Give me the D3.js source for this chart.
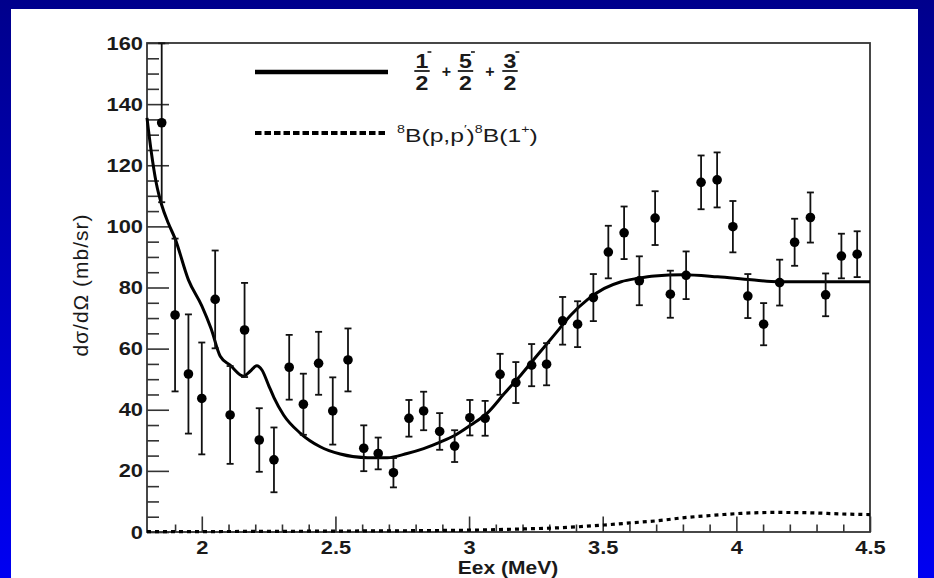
<!DOCTYPE html>
<html>
<head>
<meta charset="utf-8">
<script src="https://cdn.jsdelivr.net/npm/d3@7"></script>
<style>
  body { margin: 0; background: #0000c0; }
  text { font-family: "Liberation Sans", Arial, Helvetica, sans-serif; fill: #1a1a1a; }
</style>
</head>
<body>
<svg id="chart" width="934" height="578"></svg>
<script>
// ----- data -----
const energies = [1.85, 1.90, 1.95, 2.00, 2.05, 2.106, 2.16, 2.215, 2.27, 2.327, 2.38, 2.437,
                  2.49, 2.547, 2.606, 2.66, 2.717, 2.775, 2.83, 2.89, 2.946, 3.003, 3.06, 3.116,
                  3.175, 3.234, 3.29, 3.35, 3.406, 3.465, 3.521, 3.58, 3.637, 3.696, 3.753, 3.812,
                  3.868, 3.928, 3.987, 4.043, 4.102, 4.162, 4.218, 4.277, 4.334, 4.393, 4.452];
const xsec = [133.9, 71.0, 51.7, 43.7, 76.1, 38.3, 66.1, 30.1, 23.6, 53.9, 41.8, 55.2,
              39.6, 56.3, 27.4, 25.7, 19.4, 37.2, 39.6, 32.9, 28.1, 37.4, 37.2, 51.6,
              48.9, 54.6, 54.9, 69.1, 68.0, 76.7, 91.6, 97.9, 82.2, 102.7, 77.8, 84.0,
              114.4, 115.2, 99.9, 77.2, 68.0, 81.6, 94.8, 102.9, 77.6, 90.3, 90.9];
const xsecErr = [26, 25, 19.5, 18.3, 16, 16, 15.4, 10.4, 10.6, 10.6, 10, 10.3,
                 11, 10.3, 7.5, 5.2, 4.8, 6, 6.3, 6, 5.2, 5.8, 5.7, 6.7,
                 6.7, 6.9, 6.9, 7.8, 7.5, 7.7, 8.6, 8.6, 8, 8.8, 7.7, 7.8,
                 8.8, 9, 8.4, 7.2, 6.9, 7.5, 7.7, 8.2, 7, 7.3, 7.5];

// total fit (1/2- + 5/2- + 3/2-)
const fitE = [1.795, 1.81, 1.83, 1.85, 1.875, 1.9, 1.95, 2.0, 2.035, 2.069, 2.106, 2.156,
              2.18, 2.206, 2.225, 2.25, 2.27, 2.306, 2.369, 2.443, 2.518, 2.62, 2.694, 2.768,
              2.83, 2.894, 2.944, 3.006, 3.069, 3.131, 3.194, 3.256, 3.319, 3.381, 3.444,
              3.506, 3.569, 3.631, 3.694, 3.8, 3.93, 4.056, 4.156, 4.3, 4.5];
const fitXsec = [135.5, 125, 114, 107, 101, 96, 82.5, 74, 66.5, 57.5, 54.6, 51,
                 52.5, 54.4, 53, 48, 44, 38.3, 32.3, 27.9, 25.5, 24.3, 24.3, 25.7,
                 27.3, 29.5, 31.5, 35, 39, 45.2, 51.4, 57.9, 64.5, 71, 76.1,
                 79.7, 81.9, 83, 83.8, 84.2, 83.5, 82.5, 81.9, 81.9, 81.9];

// 8B(p,p')8B(1+) contribution
const b8E = [1.795, 2.5, 3.0, 3.2, 3.343, 3.506, 3.606, 3.706, 3.806, 3.919, 4.019, 4.144, 4.269, 4.394, 4.5];
const b8Xsec = [0.1, 0.3, 0.6, 1.0, 1.4, 2.3, 3.0, 3.7, 4.7, 5.5, 6.1, 6.4, 6.3, 5.9, 5.7];

const xTicks = [2, 2.5, 3, 3.5, 4, 4.5];
const xTickLabels = ['2', '2.5', '3', '3.5', '4', '4.5'];
const yTicks = [0, 20, 40, 60, 80, 100, 120, 140, 160];
const yTickLabels = ['0', '20', '40', '60', '80', '100', '120', '140', '160'];

const svg = d3.select('#chart');

// background: blue slide with white panel
const grad = svg.append('defs').append('linearGradient')
    .attr('id', 'bg').attr('x1', 0).attr('y1', 0).attr('x2', 0).attr('y2', 1);
grad.append('stop').attr('offset', '0%').attr('stop-color', '#00008c');
grad.append('stop').attr('offset', '100%').attr('stop-color', '#0000f2');
svg.append('rect').attr('width', 934).attr('height', 578).attr('fill', 'url(#bg)');
svg.append('rect').attr('x', 11).attr('y', 9).attr('width', 907).attr('height', 569).attr('fill', '#fff');

// scales
const x = d3.scaleLinear().domain([1.795, 4.5]).range([147, 870]);
const y = d3.scaleLinear().domain([0, 160]).range([532, 43]);

// minor ticks
const xMinor = d3.range(19, 45).map(d => d / 10).filter(d => !xTicks.some(t => Math.abs(t - d) < 1e-6));
const yMinor = d3.range(0, 161, 5).filter(d => d % 20 !== 0);

const axisColor = '#333';

const xAxisG = svg.append('g').attr('transform', `translate(0, ${y(0)})`);
xAxisG.call(d3.axisBottom(x).tickValues(xTicks).tickSize(-15.5).tickPadding(8.5)
    .tickFormat((d, i) => xTickLabels[i]));
const xMinorG = svg.append('g').attr('transform', `translate(0, ${y(0)})`);
xMinorG.call(d3.axisBottom(x).tickValues(xMinor).tickSize(-7.5).tickFormat(''));

const yAxisG = svg.append('g').attr('transform', `translate(${x.range()[0]}, 0)`);
yAxisG.call(d3.axisLeft(y).tickValues(yTicks).tickSize(-22).tickPadding(3.5)
    .tickFormat((d, i) => yTickLabels[i]));
const yMinorG = svg.append('g').attr('transform', `translate(${x.range()[0]}, 0)`);
yMinorG.call(d3.axisLeft(y).tickValues(yMinor).tickSize(-12).tickFormat(''));

[xAxisG, xMinorG, yAxisG, yMinorG].forEach(g => {
    g.select('.domain').remove();
    g.selectAll('line').attr('stroke', axisColor).attr('stroke-width', 1.6);
    g.selectAll('text')
     .attr('font-size', 19)
     .attr('font-weight', 'bold')
     .attr('fill', '#1a1a1a')
     .attr('transform', 'scale(1.15,1)');
});

// frame
svg.append('rect')
   .attr('x', x.range()[0]).attr('y', y(160))
   .attr('width', x.range()[1] - x.range()[0]).attr('height', y(0) - y(160))
   .attr('fill', 'none').attr('stroke', axisColor).attr('stroke-width', 1.8);

// axis titles
svg.append('text')
   .attr('transform', 'translate(508, 574) scale(1.2,1)')
   .attr('text-anchor', 'middle')
   .attr('font-size', 17.5).attr('font-weight', 'bold')
   .text('Eex (MeV)');
svg.append('text')
   .attr('transform', 'translate(88, 285) rotate(-90)')
   .attr('text-anchor', 'middle')
   .attr('font-size', 21).attr('letter-spacing', 1)
   .text('dσ/dΩ (mb/sr)');

// curves
const fitLine = d3.line().x(d => x(d[0])).y(d => y(d[1])).curve(d3.curveMonotoneX);
svg.append('path')
   .datum(fitE.map((e, i) => [e, fitXsec[i]]))
   .attr('d', fitLine)
   .attr('fill', 'none').attr('stroke', '#000').attr('stroke-width', 3);
svg.append('path')
   .datum(b8E.map((e, i) => [e, b8Xsec[i]]))
   .attr('d', fitLine)
   .attr('fill', 'none').attr('stroke', '#000').attr('stroke-width', 3.2)
   .attr('stroke-dasharray', '4,4');

// data points with error bars
const points = energies.map((e, i) => ({ e: e, v: xsec[i], err: xsecErr[i] }));
const capW = 3.5;
const pts = svg.append('g').attr('class', 'points');
const pg = pts.selectAll('g').data(points).join('g');
pg.append('line')
  .attr('x1', d => x(d.e)).attr('x2', d => x(d.e))
  .attr('y1', d => y(Math.min(d.v + d.err, 160))).attr('y2', d => y(d.v - d.err))
  .attr('stroke', '#111').attr('stroke-width', 1.8);
pg.append('line')
  .attr('x1', d => x(d.e) - capW).attr('x2', d => x(d.e) + capW)
  .attr('y1', d => y(Math.min(d.v + d.err, 160))).attr('y2', d => y(Math.min(d.v + d.err, 160)))
  .attr('stroke', '#111').attr('stroke-width', 1.8);
pg.append('line')
  .attr('x1', d => x(d.e) - capW).attr('x2', d => x(d.e) + capW)
  .attr('y1', d => y(d.v - d.err)).attr('y2', d => y(d.v - d.err))
  .attr('stroke', '#111').attr('stroke-width', 1.8);
pg.append('circle')
  .attr('cx', d => x(d.e)).attr('cy', d => y(d.v)).attr('r', 4.8)
  .attr('fill', '#000');

// legend
const legend = svg.append('g');
legend.append('line').attr('x1', 255).attr('x2', 388).attr('y1', 72).attr('y2', 72)
      .attr('stroke', '#000').attr('stroke-width', 4.5);
legend.append('line').attr('x1', 255).attr('x2', 385).attr('y1', 133).attr('y2', 133)
      .attr('stroke', '#000').attr('stroke-width', 4).attr('stroke-dasharray', '6.5,3');

const fracNums = ['1', '5', '3'];
const fracCenters = [422, 465.5, 510];
fracNums.forEach((n, i) => {
    const cx = fracCenters[i];
    const fg = legend.append('g').attr('transform', `translate(${cx}, 0) scale(1.1,1)`);
    fg.append('text').attr('x', 0).attr('y', 68).attr('text-anchor', 'middle')
      .attr('font-size', 21).attr('font-weight', 'bold').text(n);
    fg.append('line').attr('x1', 5).attr('x2', 8.5).attr('y1', 52).attr('y2', 52)
      .attr('stroke', '#1a1a1a').attr('stroke-width', 1.6);
    fg.append('line').attr('x1', -7).attr('x2', 7).attr('y1', 71).attr('y2', 71)
      .attr('stroke', '#1a1a1a').attr('stroke-width', 1.8);
    fg.append('text').attr('x', 0).attr('y', 90).attr('text-anchor', 'middle')
      .attr('font-size', 21).attr('font-weight', 'bold').text('2');
    if (i < fracNums.length - 1) {
        legend.append('text').attr('x', cx + 24.5).attr('y', 77).attr('text-anchor', 'middle')
              .attr('font-size', 16).attr('font-weight', 'bold').text('+');
    }
});

const b8Label = legend.append('text')
      .attr('transform', 'translate(397, 142) scale(1.3,1)')
      .attr('font-size', 19);
b8Label.append('tspan').attr('font-size', 11).attr('dy', -9).text('8');
b8Label.append('tspan').attr('dy', 9).text('B(p,p');
b8Label.append('tspan').attr('font-size', 11).attr('dy', -9).text('\u2032');
b8Label.append('tspan').attr('dy', 9).text(')');
b8Label.append('tspan').attr('font-size', 11).attr('dy', -9).text('8');
b8Label.append('tspan').attr('dy', 9).text('B(1');
b8Label.append('tspan').attr('font-size', 11).attr('dy', -9).text('+');
b8Label.append('tspan').attr('dy', 9).text(')');
</script>
</body>
</html>
